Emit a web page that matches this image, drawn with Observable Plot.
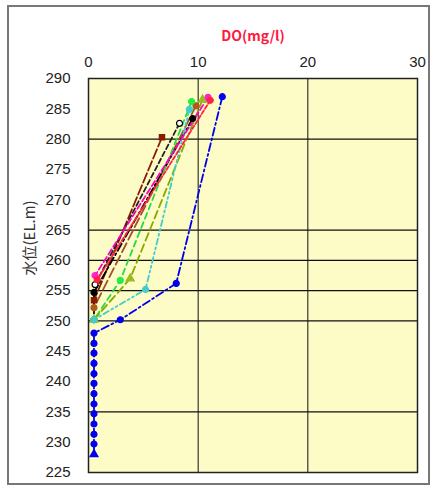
<!DOCTYPE html>
<html><head><meta charset="utf-8">
<script src="https://cdn.jsdelivr.net/npm/d3@7"></script>
<script src="https://cdn.jsdelivr.net/npm/@observablehq/plot@0.6"></script>
<style>
body{margin:0;background:#fff;}
#wrap{position:relative;width:436px;height:488px;}
#border{position:absolute;left:7px;top:5px;width:419px;height:476px;border:2px solid #777;box-sizing:content-box;}
#chart{position:absolute;left:0;top:0;}
</style></head>
<body><div id="wrap"><div id="border"></div><div id="chart"></div></div>
<script>
// ---- data (DO mg/l vs water level EL.m) ----
const blueDO  = [12.2, 8.0, 2.9, 0.5, 0.5, 0.5, 0.5, 0.5, 0.5, 0.5, 0.5, 0.5, 0.5, 0.5, 0.5, 0.5];
const blueEL  = [287.0, 256.2, 250.2, 248.0, 246.3, 244.7, 243.0, 241.3, 239.7, 238.0, 236.3, 234.7, 233.0, 231.3, 229.7, 228.0];
const cyanDO  = [9.2, 5.2, 0.5];
const cyanEL  = [284.9, 255.2, 250.2];
const greenDO = [9.4, 2.9, 0.5];
const greenEL = [286.2, 256.7, 250.2];
const oliveDO = [10.4, 3.8, 0.5];
const oliveEL = [286.5, 257.0, 250.2];
const brownDO = [9.8, 0.5];
const brownEL = [285.5, 252.2];
const blackDO = [9.5, 0.5, 0.5];
const blackEL = [283.4, 254.7, 250.2];
const openDO  = [8.3, 0.6];
const openEL  = [282.6, 256.0];
const dredDO  = [6.7, 0.5];
const dredEL  = [280.3, 253.4];
const magDO   = [10.9, 0.6];
const magEL   = [286.9, 257.5];
const redDO   = [11.1, 0.8];
const redEL   = [286.4, 256.8];

const xTicks = [0, 10, 20, 30];
const yTicks = [225, 230, 235, 240, 245, 250, 255, 260, 265, 270, 275, 280, 285, 290];
const xGrid = [10, 20];
const yGrid = [280, 265, 260, 255, 250, 235];

// ---- styles (kept separate from values) ----
const series = [
  {name: "dred",  x: dredDO,  y: dredEL,  color: "#8B1A00", dash: "10,3",        fill: "#8B1A00", sym: "square"},
  {name: "brown", x: brownDO, y: brownEL, color: "#A0522D", dash: "10,4",        fill: "#B05A1A", sym: "circle"},
  {name: "open",  x: openDO,  y: openEL,  color: "#222222", dash: "5,3",         fill: "#ffffff", sym: "circle"},
  {name: "black", x: blackDO, y: blackEL, color: "#000000", dash: "8,3,2,3",     fill: "#000000", sym: "circle"},
  {name: "green", x: greenDO, y: greenEL, color: "#22DD44", dash: "6,4",         fill: "#22EE44", sym: "circle"},
  {name: "olive", x: oliveDO, y: oliveEL, color: "#88AA00", dash: "8,4",         fill: "#99BB22", sym: "triangle"},
  {name: "cyan",  x: cyanDO,  y: cyanEL,  color: "#44CCCC", dash: "6,3,2,3,2,3", fill: "#44CCCC", sym: "circle"},
  {name: "mag",   x: magDO,   y: magEL,   color: "#FF00CC", dash: "6,3",         fill: "#FF22CC", sym: "circle"},
  {name: "red",   x: redDO,   y: redEL,   color: "#FF2244", dash: "4,2",         fill: "#FF2244", sym: "circle"},
  {name: "blue",  x: blueDO,  y: blueEL,  color: "#0000EE", dash: "8,3,2,3",     fill: "#0000EE", sym: "circle"}
];

const rows = series.flatMap(s => s.x.map((v, i) => ({
  name: s.name, DO: v, EL: s.y[i], color: s.color, dash: s.dash, fill: s.fill,
  sym: (s.name === "blue" && i === s.x.length - 1) ? "triangle" : s.sym
})));

const font = "'Liberation Sans', Arial, sans-serif";
const marks = [
  Plot.frame({fill: "#FDFBC6", stroke: null}),
  Plot.ruleX(xGrid, {stroke: "#111", strokeWidth: 1}),
  Plot.ruleY(yGrid, {stroke: "#111", strokeWidth: 1.2}),
  ...series.map(s => Plot.line(rows.filter(r => r.name === s.name), {
    x: "DO", y: "EL", stroke: s.color, strokeWidth: 1.8, strokeDasharray: s.dash, curve: "linear"
  })),
  Plot.dot(rows, {x: "DO", y: "EL", r: 3, fill: d => d.fill, stroke: d => d.name === "open" ? "#000" : d.fill,
    strokeWidth: 1.2, symbol: d => d.sym}),
  Plot.frame({stroke: "#222", strokeWidth: 1.5}),
  Plot.axisX(xTicks, {anchor: "top", tickSize: 0, tickPadding: 12, fontSize: 15, label: null, fill: "#222", fontFamily: font}),
  Plot.axisY(yTicks, {anchor: "left", tickSize: 0, tickPadding: 18, fontSize: 15, label: null, fill: "#222", fontFamily: font}),
  Plot.text(["DO(mg/l)"], {frameAnchor: "top", dy: -47, fill: "#FF1A40", fontSize: 14, fontWeight: "bold",
    fontFamily: "'Noto Sans CJK JP', sans-serif"}),
  Plot.text(["水位(EL.m)"], {frameAnchor: "left", dx: -58, rotate: -90, fill: "#333", fontSize: 15,
    fontFamily: "'Noto Sans CJK JP', sans-serif"})
];

const chart = Plot.plot({
  width: 436, height: 488,
  marginLeft: 88, marginRight: 19, marginTop: 78, marginBottom: 16,
  x: {domain: [0, 30], axis: null},
  y: {domain: [225, 290], axis: null},
  style: {background: "transparent", fontFamily: font},
  marks
});
document.getElementById("chart").appendChild(chart);
</script>
</body></html>
